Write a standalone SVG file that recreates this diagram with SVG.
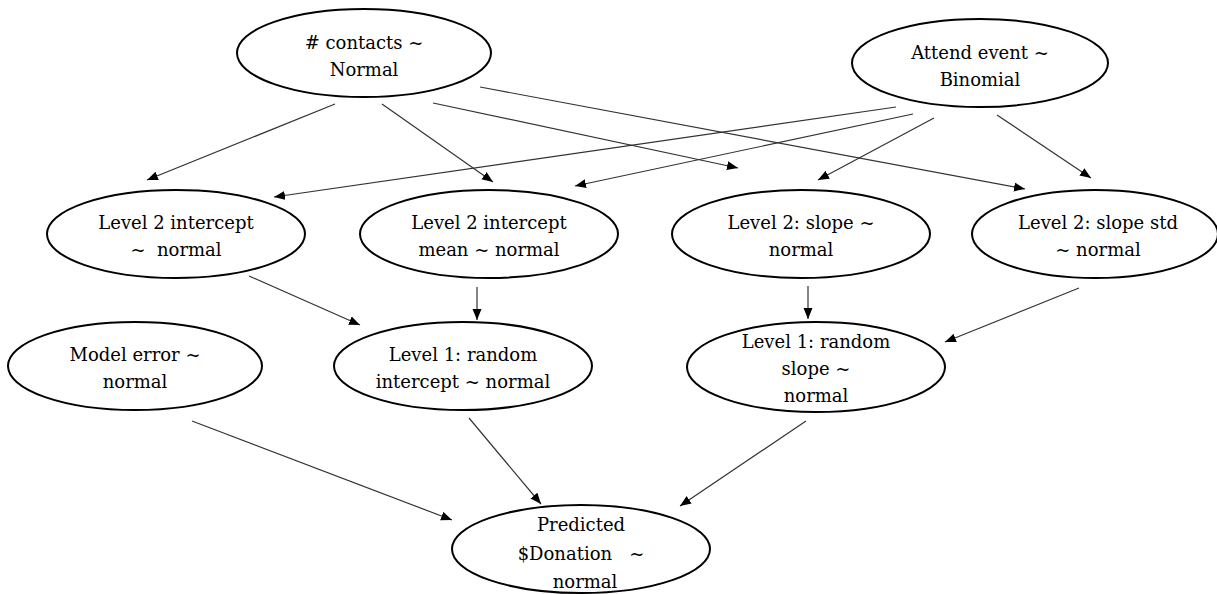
<svg xmlns="http://www.w3.org/2000/svg" width="1217" height="594" viewBox="0 0 1217 594">
<style>
.node ellipse { fill: #ffffff; stroke: #000000; stroke-width: 2; }
.node text { font-family: "DejaVu Serif", "Liberation Serif", serif; font-size: 18px; fill: #000000; text-anchor: middle; white-space: pre; }
.conn line { stroke: #333333; stroke-width: 1.2; marker-end: url(#arr); }
</style>
<defs>
<marker id="arr" markerUnits="userSpaceOnUse" markerWidth="12" markerHeight="10" refX="11" refY="4.5" orient="auto">
<path d="M0,0 L11,4.5 L0,9 z" fill="#000000"/>
</marker>
</defs>
<rect width="1217" height="594" fill="#ffffff"/>
<g id="connectors" class="conn">
<line x1="335" y1="104" x2="147" y2="180"/>
<line x1="382" y1="104" x2="493" y2="182"/>
<line x1="433" y1="103" x2="738" y2="168"/>
<line x1="480" y1="87" x2="1025" y2="189"/>
<line x1="896" y1="107" x2="274" y2="197"/>
<line x1="913" y1="114" x2="575" y2="186"/>
<line x1="934" y1="118" x2="818" y2="180"/>
<line x1="997" y1="115" x2="1091" y2="178"/>
<line x1="249" y1="276" x2="360" y2="325"/>
<line x1="477" y1="287" x2="477" y2="320"/>
<line x1="808" y1="286" x2="808" y2="319"/>
<line x1="1079" y1="288" x2="945" y2="342"/>
<line x1="192" y1="421" x2="452" y2="520"/>
<line x1="469" y1="418" x2="541" y2="504"/>
<line x1="806" y1="421" x2="680" y2="506"/>
</g>
<g id="n_contacts" class="node">
<ellipse cx="364" cy="53" rx="127" ry="44"/>
<text x="364" y="49"># contacts ~</text>
<text x="364" y="76">Normal</text>
</g>
<g id="n_attend" class="node">
<ellipse cx="980" cy="63" rx="128" ry="44"/>
<text x="980" y="59">Attend event ~</text>
<text x="980" y="86">Binomial</text>
</g>
<g id="n_l2int" class="node">
<ellipse cx="176" cy="234" rx="129" ry="44"/>
<text x="176" y="229">Level 2 intercept</text>
<text x="176" y="256">~  normal</text>
</g>
<g id="n_l2mean" class="node">
<ellipse cx="489" cy="234" rx="129" ry="44"/>
<text x="489" y="229">Level 2 intercept</text>
<text x="489" y="256">mean ~ normal</text>
</g>
<g id="n_l2slope" class="node">
<ellipse cx="801" cy="234" rx="129" ry="44"/>
<text x="801" y="229">Level 2: slope ~</text>
<text x="801" y="256">normal</text>
</g>
<g id="n_l2std" class="node">
<ellipse cx="1095" cy="234" rx="123" ry="44"/>
<text x="1098" y="229">Level 2: slope std</text>
<text x="1098" y="256">~ normal</text>
</g>
<g id="n_moderr" class="node">
<ellipse cx="135" cy="366" rx="127" ry="44"/>
<text x="135" y="361">Model error ~</text>
<text x="135" y="388">normal</text>
</g>
<g id="n_l1int" class="node">
<ellipse cx="463" cy="366" rx="129" ry="44"/>
<text x="463" y="361">Level 1: random</text>
<text x="463" y="388">intercept ~ normal</text>
</g>
<g id="n_l1slope" class="node">
<ellipse cx="816" cy="367" rx="129" ry="45"/>
<text x="816" y="348">Level 1: random</text>
<text x="816" y="375">slope ~</text>
<text x="816" y="402">normal</text>
</g>
<g id="n_pred" class="node">
<ellipse cx="581" cy="549" rx="129" ry="44"/>
<text x="581" y="531">Predicted</text>
<text x="581" y="560">$Donation   ~</text>
<text x="585" y="588">normal</text>
</g>
</svg>
